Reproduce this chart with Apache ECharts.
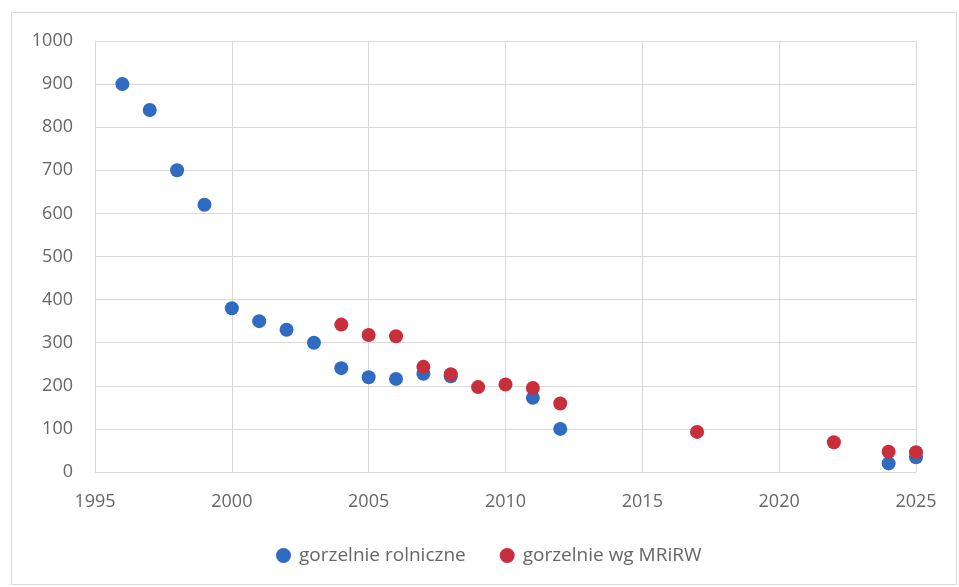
<!DOCTYPE html>
<html>
<head>
<meta charset="utf-8">
<script src="https://cdn.jsdelivr.net/npm/echarts@6/dist/echarts.min.js"></script>
<style>
  html, body { margin: 0; padding: 0; background: #fff; }
  #chart { width: 959px; height: 587px; }
</style>
</head>
<body>
<div id="chart"></div>
<script>
// Liczba gorzelni w Polsce w kolejnych latach
const yearsRolnicze = [1996, 1997, 1998, 1999, 2000, 2001, 2002, 2003, 2004, 2005, 2006, 2007, 2008, 2011, 2012, 2024, 2025];
const valuesRolnicze = [900, 840, 700, 620, 380, 350, 330, 300, 241, 220, 216, 228, 222, 172, 100, 20, 34];

const yearsMRiRW = [2004, 2005, 2006, 2007, 2008, 2009, 2010, 2011, 2012, 2017, 2022, 2024, 2025];
const valuesMRiRW = [342, 318, 315, 244, 227, 197, 203, 195, 159, 93, 69, 47, 46];

const seriesNames = ['gorzelnie rolniczne', 'gorzelnie wg MRiRW'];

const pairs = (xs, ys) => xs.map((x, i) => [x, ys[i]]);

const textColor = '#666666';
const gridColor = '#d9d9d9';
const font = '"Open Sans", "Liberation Sans", sans-serif';

const chart = echarts.init(document.getElementById('chart'), null, { renderer: 'canvas' });
chart.setOption({
  animation: false,
  backgroundColor: '#ffffff',
  textStyle: { fontFamily: font },
  graphic: [{
    type: 'rect',
    shape: { x: 11.5, y: 12.5, width: 945, height: 572 },
    style: { fill: 'none', stroke: '#d9d9d9', lineWidth: 1 },
    silent: true
  }],
  grid: { left: 95, right: 43, top: 41, bottom: 115 },
  xAxis: {
    type: 'value',
    min: 1995, max: 2025, interval: 5,
    axisLine: { show: true, lineStyle: { color: gridColor } },
    axisTick: { show: false },
    splitLine: { show: true, lineStyle: { color: gridColor, width: 1 } },
    axisLabel: {
      color: textColor, fontSize: 18, margin: 21, fontFamily: font,
      formatter: v => String(v)
    }
  },
  yAxis: {
    type: 'value',
    min: 0, max: 1000, interval: 100,
    axisLine: { show: true, lineStyle: { color: gridColor } },
    axisTick: { show: false },
    splitLine: { show: true, lineStyle: { color: gridColor, width: 1 } },
    axisLabel: {
      color: textColor, fontSize: 18, margin: 22, fontFamily: font,
      formatter: v => String(v)
    }
  },
  legend: {
    top: 541,
    left: 271,
    itemGap: 34,
    itemWidth: 15,
    itemHeight: 15,
    icon: 'circle',
    textStyle: { color: textColor, fontSize: 19, fontFamily: font, padding: [0, 0, 0, 3] },
    data: seriesNames
  },
  series: [
    {
      name: seriesNames[0],
      type: 'scatter',
      symbol: 'circle',
      symbolSize: 14,
      itemStyle: { color: '#2e6bc1', opacity: 1 },
      data: pairs(yearsRolnicze, valuesRolnicze),
      z: 2
    },
    {
      name: seriesNames[1],
      type: 'scatter',
      symbol: 'circle',
      symbolSize: 14,
      itemStyle: { color: '#c62f3b', opacity: 1 },
      data: pairs(yearsMRiRW, valuesMRiRW),
      z: 3
    }
  ]
});
</script>
</body>
</html>
